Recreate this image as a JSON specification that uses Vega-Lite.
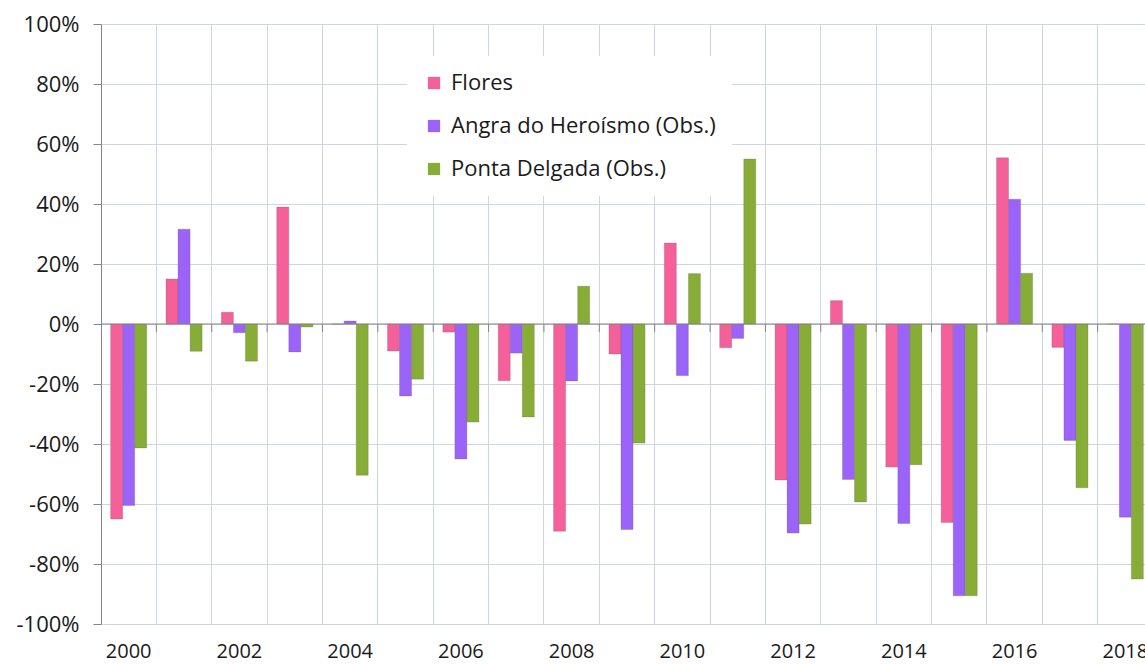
{
  "$schema": "https://vega.github.io/schema/vega-lite/v6.json",
  "autosize": {"type": "none"},
  "width": 1044,
  "height": 600,
  "padding": {"left": 101, "top": 24, "right": 0, "bottom": 40},
  "background": "white",
  "config": {
    "view": {"stroke": null},
    "font": "Open Sans",
    "axis": {"title": null, "labelFont": "Open Sans", "labelFontSize": 20, "labelColor": "#1a1a1a"}
  },
  "datasets": {
    "bars": [
      {"year": "2000", "series": "Flores", "value": -65},
      {"year": "2000", "series": "Angra do Heroísmo (Obs.)", "value": -60.5},
      {"year": "2000", "series": "Ponta Delgada (Obs.)", "value": -41.3},
      {"year": "2001", "series": "Flores", "value": 15},
      {"year": "2001", "series": "Angra do Heroísmo (Obs.)", "value": 31.6},
      {"year": "2001", "series": "Ponta Delgada (Obs.)", "value": -9.1},
      {"year": "2002", "series": "Flores", "value": 3.9},
      {"year": "2002", "series": "Angra do Heroísmo (Obs.)", "value": -2.9},
      {"year": "2002", "series": "Ponta Delgada (Obs.)", "value": -12.4},
      {"year": "2003", "series": "Flores", "value": 39},
      {"year": "2003", "series": "Angra do Heroísmo (Obs.)", "value": -9.3},
      {"year": "2003", "series": "Ponta Delgada (Obs.)", "value": -1},
      {"year": "2004", "series": "Flores", "value": 0},
      {"year": "2004", "series": "Angra do Heroísmo (Obs.)", "value": 1},
      {"year": "2004", "series": "Ponta Delgada (Obs.)", "value": -50.4},
      {"year": "2005", "series": "Flores", "value": -9},
      {"year": "2005", "series": "Angra do Heroísmo (Obs.)", "value": -24},
      {"year": "2005", "series": "Ponta Delgada (Obs.)", "value": -18.4},
      {"year": "2006", "series": "Flores", "value": -2.7},
      {"year": "2006", "series": "Angra do Heroísmo (Obs.)", "value": -45},
      {"year": "2006", "series": "Ponta Delgada (Obs.)", "value": -32.7},
      {"year": "2007", "series": "Flores", "value": -18.9},
      {"year": "2007", "series": "Angra do Heroísmo (Obs.)", "value": -9.7},
      {"year": "2007", "series": "Ponta Delgada (Obs.)", "value": -31},
      {"year": "2008", "series": "Flores", "value": -69.1},
      {"year": "2008", "series": "Angra do Heroísmo (Obs.)", "value": -19},
      {"year": "2008", "series": "Ponta Delgada (Obs.)", "value": 12.6},
      {"year": "2009", "series": "Flores", "value": -10},
      {"year": "2009", "series": "Angra do Heroísmo (Obs.)", "value": -68.5},
      {"year": "2009", "series": "Ponta Delgada (Obs.)", "value": -39.7},
      {"year": "2010", "series": "Flores", "value": 27},
      {"year": "2010", "series": "Angra do Heroísmo (Obs.)", "value": -17.2},
      {"year": "2010", "series": "Ponta Delgada (Obs.)", "value": 16.8},
      {"year": "2011", "series": "Flores", "value": -7.9},
      {"year": "2011", "series": "Angra do Heroísmo (Obs.)", "value": -4.8},
      {"year": "2011", "series": "Ponta Delgada (Obs.)", "value": 55},
      {"year": "2012", "series": "Flores", "value": -52},
      {"year": "2012", "series": "Angra do Heroísmo (Obs.)", "value": -69.7},
      {"year": "2012", "series": "Ponta Delgada (Obs.)", "value": -66.7},
      {"year": "2013", "series": "Flores", "value": 7.8},
      {"year": "2013", "series": "Angra do Heroísmo (Obs.)", "value": -51.8},
      {"year": "2013", "series": "Ponta Delgada (Obs.)", "value": -59.3},
      {"year": "2014", "series": "Flores", "value": -47.7},
      {"year": "2014", "series": "Angra do Heroísmo (Obs.)", "value": -66.5},
      {"year": "2014", "series": "Ponta Delgada (Obs.)", "value": -46.9},
      {"year": "2015", "series": "Flores", "value": -66.2},
      {"year": "2015", "series": "Angra do Heroísmo (Obs.)", "value": -90.6},
      {"year": "2015", "series": "Ponta Delgada (Obs.)", "value": -90.6},
      {"year": "2016", "series": "Flores", "value": 55.4},
      {"year": "2016", "series": "Angra do Heroísmo (Obs.)", "value": 41.6},
      {"year": "2016", "series": "Ponta Delgada (Obs.)", "value": 16.9},
      {"year": "2017", "series": "Flores", "value": -7.8},
      {"year": "2017", "series": "Angra do Heroísmo (Obs.)", "value": -38.8},
      {"year": "2017", "series": "Ponta Delgada (Obs.)", "value": -54.6},
      {"year": "2018", "series": "Flores", "value": 0},
      {"year": "2018", "series": "Angra do Heroísmo (Obs.)", "value": -64.4},
      {"year": "2018", "series": "Ponta Delgada (Obs.)", "value": -85}
    ],
    "years": [
      {"year": "2000"}, {"year": "2001"}, {"year": "2002"}, {"year": "2003"}, {"year": "2004"},
      {"year": "2005"}, {"year": "2006"}, {"year": "2007"}, {"year": "2008"}, {"year": "2009"},
      {"year": "2010"}, {"year": "2011"}, {"year": "2012"}, {"year": "2013"}, {"year": "2014"},
      {"year": "2015"}, {"year": "2016"}, {"year": "2017"}, {"year": "2018"}
    ]
  },
  "layer": [
    {
      "data": {"name": "bars"},
      "mark": {"type": "bar", "clip": true, "stroke": "#5a5a5a", "strokeOpacity": 0.35, "strokeWidth": 0.7},
      "encoding": {
        "x": {
          "field": "year",
          "type": "ordinal",
          "scale": {"range": [0, 1052], "paddingInner": 0, "paddingOuter": 0},
          "axis": {
            "orient": "bottom",
            "domain": false,
            "ticks": false,
            "grid": true,
            "bandPosition": 0,
            "gridColor": "#CDD5DE",
            "gridWidth": 1,
            "labelAngle": 0,
            "labelPadding": 17,
            "labelBound": false,
            "labelOverlap": false,
            "labelExpr": "toNumber(datum.value) % 2 == 0 ? datum.label : ''"
          }
        },
        "xOffset": {
          "field": "series",
          "type": "nominal",
          "sort": ["Flores", "Angra do Heroísmo (Obs.)", "Ponta Delgada (Obs.)"],
          "scale": {"paddingInner": 0, "paddingOuter": 0.8}
        },
        "y": {
          "field": "value",
          "type": "quantitative",
          "scale": {"domain": [-100, 100], "nice": false, "zero": true},
          "axis": {
            "values": [-100, -80, -60, -40, -20, 0, 20, 40, 60, 80, 100],
            "labelExpr": "datum.value + '%'",
            "labelFontSize": 22,
            "domain": true,
            "domainColor": "#868686",
            "ticks": true,
            "tickSize": 8,
            "tickColor": "#868686",
            "labelPadding": 14,
            "grid": true,
            "gridColor": "#CDD5DE",
            "gridWidth": 1
          }
        },
        "color": {
          "field": "series",
          "type": "nominal",
          "sort": ["Flores", "Angra do Heroísmo (Obs.)", "Ponta Delgada (Obs.)"],
          "scale": {"range": ["#F5609A", "#9B63F7", "#87AD36"]},
          "legend": {
            "title": null,
            "orient": "none",
            "legendX": 306,
            "legendY": 32,
            "fillColor": "white",
            "padding": 16,
            "symbolType": "square",
            "symbolSize": 150,
            "symbolStrokeWidth": 0,
            "labelFont": "Open Sans",
            "labelFontSize": 22,
            "labelColor": "#1a1a1a",
            "labelOffset": 6,
            "labelLimit": 500,
            "rowPadding": 21
          }
        }
      }
    },
    {
      "data": {"values": [{}]},
      "mark": {"type": "rule", "color": "#868686", "strokeWidth": 1.2},
      "encoding": {"y": {"datum": 0}}
    },
    {
      "data": {"name": "years"},
      "mark": {"type": "rule", "color": "#868686", "clip": true},
      "encoding": {
        "x": {"field": "year", "type": "ordinal", "bandPosition": 0},
        "y": {"datum": 0},
        "y2": {"datum": -2.7}
      }
    }
  ]
}
